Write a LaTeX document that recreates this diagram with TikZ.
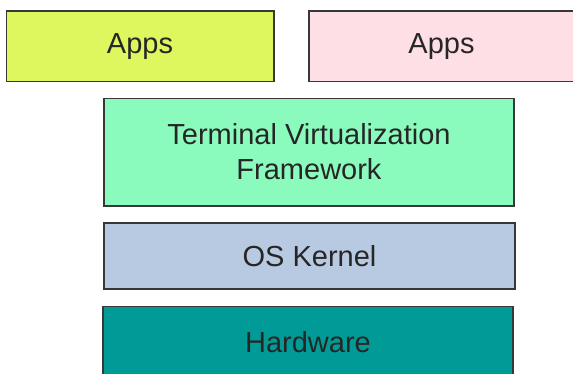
\documentclass[tikz,border=0pt]{standalone}
\usepackage{fontspec}
\setmainfont{Liberation Sans}
\usepackage{tikz}

\definecolor{appsyellow}{HTML}{DFF75E}
\definecolor{appspink}{HTML}{FEDFE5}
\definecolor{tvfgreen}{HTML}{8AFBBD}
\definecolor{kernelblue}{HTML}{B8C9E2}
\definecolor{hwteal}{HTML}{009B96}
\definecolor{edgegray}{HTML}{383838}

\begin{document}
\begin{tikzpicture}[x=1pt,y=-1pt,
    layer/.style={draw=edgegray, line width=1.5pt, rectangle, inner sep=0pt,
                  align=center, font=\fontsize{29}{35}\selectfont, text=black!85}]
  \useasboundingbox (0,0) rectangle (573,374);
  \clip (0,0) rectangle (573,374);

  % top row of applications (right one runs off the edge)
  \node [layer, fill=appsyellow, minimum width=267.5pt, minimum height=70.5pt] (AppsLeft) at (140,46.2) {Apps};
  \node [layer, fill=appspink, minimum width=302pt, minimum height=70.5pt] (AppsRight) at (460,46.2) {\hspace*{-37pt}Apps};

  % the stack below
  \node [layer, fill=tvfgreen, minimum width=410pt, minimum height=107.5pt] (Framework) at (309,152.2) {\raisebox{1.5pt}{Terminal Virtualization}\\\raisebox{1.5pt}{Framework}};
  \node [layer, fill=kernelblue, minimum width=411pt, minimum height=66pt] (Kernel) at (309.5,256) {OS Kernel};
  \node [layer, fill=hwteal, minimum width=410pt, minimum height=74pt] (Hardware) at (308,343.5) {\raisebox{4pt}{Hardware}};

\end{tikzpicture}
\end{document}
